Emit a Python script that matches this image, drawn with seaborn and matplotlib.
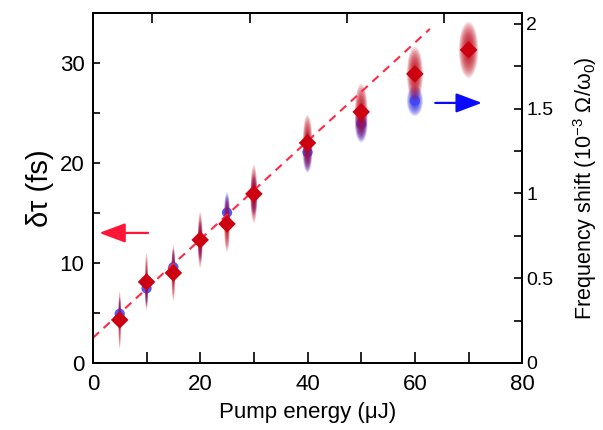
import numpy as np
import pandas as pd
import matplotlib.pyplot as plt
from matplotlib.patches import Ellipse
from matplotlib.ticker import MultipleLocator
import seaborn as sns

# pump energy (uJ)
energy_red = [5, 10, 15, 20, 25, 30, 40, 50, 60, 70]
# pulse broadening delta tau (fs), left axis
dtau = [4.3, 8.1, 9.0, 12.3, 13.9, 16.9, 22.0, 25.1, 28.9, 31.3]
dtau_err = [2.9, 2.9, 2.8, 2.8, 2.8, 2.9, 2.8, 2.8, 2.7, 2.8]
dtau_xerr = [0.25, 0.3, 0.35, 0.45, 0.55, 0.65, 0.9, 1.2, 1.5, 1.8]

energy_blue = [5, 10, 15, 20, 25, 30, 40, 50, 60]
# frequency shift (1e-3 Omega/omega0), right axis
fshift = [0.29, 0.44, 0.565, 0.72, 0.887, 0.99, 1.243, 1.41, 1.547]
fshift_err = [0.1, 0.11, 0.11, 0.12, 0.12, 0.12, 0.12, 0.11, 0.09]
fshift_xerr = [0.25, 0.3, 0.35, 0.45, 0.55, 0.65, 0.9, 1.2, 1.5]

# linear guide line
fit_x = [0, 62.8]
fit_y = [2.5, 33.4]


def glow(ax, xs, ys, xe, ye, color, n=14, alpha=0.14):
    # fuzzy vertical error "bars" made of stacked ellipses
    for x, y, w, h in zip(xs, ys, xe, ye):
        for k in range(n):
            s = 1 - k / n
            ax.add_patch(Ellipse((x, y), 2 * w * s, 2 * h * s, color=color,
                                 alpha=alpha, lw=0, zorder=1))


def main():
    sns.set_theme(style="ticks")
    plt.rcParams['font.family'] = ['Liberation Sans', 'DejaVu Sans']
    plt.rcParams['mathtext.fontset'] = 'custom'
    plt.rcParams['mathtext.rm'] = 'Liberation Sans'
    plt.rcParams['mathtext.it'] = 'Liberation Sans:italic'
    for key in ['text.color', 'axes.labelcolor', 'xtick.color', 'ytick.color',
                'axes.edgecolor']:
        plt.rcParams[key] = 'black'

    red = pd.DataFrame({'energy': energy_red, 'dtau': dtau})
    blue = pd.DataFrame({'energy': energy_blue, 'fshift': fshift})
    fit = pd.DataFrame({'x': fit_x, 'y': fit_y})

    fig = plt.figure(figsize=(6.03, 4.30), dpi=100)
    ax = fig.add_axes([0.154, 0.156, 0.712, 0.814])
    ax2 = ax.twinx()
    # left-axis data on top of right-axis data
    ax.set_zorder(ax2.get_zorder() + 1)
    ax.patch.set_visible(False)

    glow(ax2, energy_blue, fshift, fshift_xerr, fshift_err, '#2a2ae8')
    sns.scatterplot(data=blue, x='energy', y='fshift', ax=ax2, marker='o',
                    s=55, color='#4545f5', edgecolor='none', alpha=0.9, zorder=3)

    glow(ax, energy_red, dtau, dtau_xerr, dtau_err, '#bb0015')
    sns.lineplot(data=fit, x='x', y='y', ax=ax, color='#ff2a45', lw=1.5,
                 zorder=2)
    ax.lines[-1].set_linestyle((0, (4, 3)))
    sns.scatterplot(data=red, x='energy', y='dtau', ax=ax, marker='D',
                    s=80, color='#cc0010', edgecolor='none', zorder=4)

    head = '-|>,head_length=1.6,head_width=0.6'
    ax.annotate('', xy=(1.2, 13), xytext=(10.3, 13),
                arrowprops=dict(arrowstyle=head, color='#ff1535', lw=1.6,
                                mutation_scale=10, shrinkA=0, shrinkB=0))
    ax2.annotate('', xy=(72.5, 1.534), xytext=(63.8, 1.534),
                 arrowprops=dict(arrowstyle=head, color='#0a0aff', lw=1.6,
                                 mutation_scale=10, shrinkA=0, shrinkB=0))

    ax.set_xlim(0, 80)
    ax.set_ylim(0, 35)
    ax2.set_ylim(0, 2.065)
    ax.xaxis.set_major_locator(MultipleLocator(20))
    ax.xaxis.set_minor_locator(MultipleLocator(10))
    ax.yaxis.set_major_locator(MultipleLocator(10))
    ax.yaxis.set_minor_locator(MultipleLocator(5))
    ax2.yaxis.set_minor_locator(MultipleLocator(0.25))
    ax2.set_yticks([0, 0.5, 1, 1.5, 2], ['0', '0.5', '1', '1.5', '2'])

    ax.set_xlabel('Pump energy (μJ)', fontsize=16, labelpad=5)
    ax.set_ylabel('δτ (fs)', fontsize=21, labelpad=4)
    ax2.set_ylabel('Frequency shift (10$^{\\mathrm{-3}}$ Ω/ω$_{\\mathrm{0}}$)',
                   fontsize=15.5, labelpad=13)

    ax.tick_params(axis='x', which='both', direction='in', length=8, width=1.2,
                   labelsize=16, pad=8, top=False)
    ax.tick_params(axis='y', which='both', direction='in', length=5, width=1.2,
                   labelsize=16, pad=6, right=False)
    ax2.tick_params(axis='y', which='both', direction='in', length=6, width=1.2,
                    labelsize=14, pad=3)

    # unlabelled ticks along the top edge
    top = ax.secondary_xaxis('top')
    top.set_xticks([11.06, 29.2, 47.35, 65.5], ['', '', '', ''])
    top.tick_params(direction='in', length=7, width=1.2)
    top.spines['top'].set_linewidth(1.3)

    for a in (ax, ax2):
        for sp in a.spines.values():
            sp.set_linewidth(1.3)
            sp.set_color('black')
    ax2.set_xlabel('')

    fig.savefig('out.png', dpi=100, facecolor='white')


if __name__ == "__main__":
    main()
